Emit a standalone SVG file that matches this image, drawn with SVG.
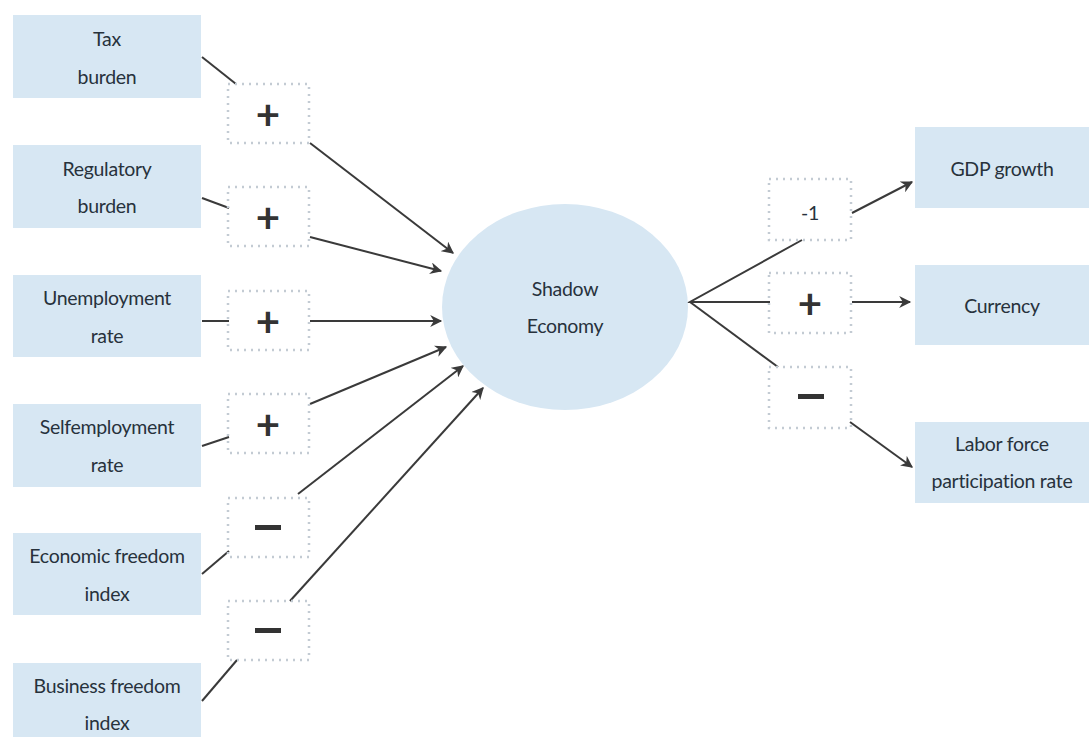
<svg xmlns="http://www.w3.org/2000/svg" width="1089" height="737" viewBox="0 0 1089 737">
<defs>
<style>
.box{fill:#d7e7f3}
.t{font-family:Lato,"Open Sans","Liberation Sans",sans-serif;font-size:19.5px;fill:#27323c;text-anchor:middle;dominant-baseline:central;letter-spacing:-0.3px}
.sg{fill:none;stroke:#c3cbd3;stroke-width:2.5;stroke-dasharray:2 5}
.s{font-family:Lato,"Liberation Sans",sans-serif;font-weight:bold;font-size:42px;fill:#333;text-anchor:middle;dominant-baseline:central}
.ln{fill:none;stroke:#3a3a3a;stroke-width:2}
.ar{fill:none;stroke:#3a3a3a;stroke-width:2;marker-end:url(#ah)}
</style>
<marker id="ah" viewBox="0 0 10 10" refX="9" refY="5" markerWidth="13" markerHeight="12" markerUnits="userSpaceOnUse" orient="auto">
<path d="M0,0 L10,5 L0,10 L3,5 Z" fill="#3a3a3a"/>
</marker>
</defs>
<rect width="1089" height="737" fill="#fff"/>

<g id="connectors">
<line class="ln" x1="202" y1="57" x2="236" y2="84"/>
<line class="ar" x1="310" y1="143" x2="453" y2="253"/>
<line class="ln" x1="202" y1="198" x2="229" y2="208"/>
<line class="ar" x1="310" y1="237" x2="441" y2="271"/>
<line class="ln" x1="202" y1="321" x2="229" y2="321"/>
<line class="ar" x1="310" y1="321" x2="441" y2="321"/>
<line class="ln" x1="202" y1="446" x2="229" y2="437"/>
<line class="ar" x1="310" y1="404" x2="446" y2="347"/>
<line class="ln" x1="202" y1="574" x2="229" y2="551"/>
<line class="ar" x1="298" y1="494" x2="463" y2="366"/>
<line class="ln" x1="202" y1="701" x2="237" y2="660"/>
<line class="ar" x1="290" y1="601" x2="483" y2="388"/>
<polyline class="ln" points="802,240 690,302 770,302"/>
<line class="ln" x1="690" y1="302" x2="778" y2="367"/>
<line class="ar" x1="852" y1="213" x2="912" y2="182"/>
<line class="ar" x1="852" y1="302" x2="910" y2="302"/>
<line class="ar" x1="850" y1="422" x2="912" y2="467"/>
</g>

<g id="tax"><rect class="box" x="13" y="15" width="188" height="83"/><text class="t" x="107" y="38">Tax</text><text class="t" x="107" y="76">burden</text></g>
<g id="regulatory"><rect class="box" x="13" y="145" width="188" height="83"/><text class="t" x="107" y="168">Regulatory</text><text class="t" x="107" y="205">burden</text></g>
<g id="unemployment"><rect class="box" x="13" y="275" width="188" height="82"/><text class="t" x="107" y="297">Unemployment</text><text class="t" x="107" y="335">rate</text></g>
<g id="selfemployment"><rect class="box" x="13" y="404" width="188" height="83"/><text class="t" x="107" y="426">Selfemployment</text><text class="t" x="107" y="464">rate</text></g>
<g id="economic"><rect class="box" x="13" y="533" width="188" height="82"/><text class="t" x="107" y="555">Economic freedom</text><text class="t" x="107" y="593">index</text></g>
<g id="business"><rect class="box" x="13" y="663" width="188" height="84"/><text class="t" x="107" y="685">Business freedom</text><text class="t" x="107" y="722">index</text></g>

<g id="sign-tax"><rect class="sg" x="228" y="84" width="81" height="59"/><text class="s" x="268" y="114">+</text></g>
<g id="sign-reg"><rect class="sg" x="228" y="187" width="81" height="59"/><text class="s" x="268" y="217">+</text></g>
<g id="sign-unemp"><rect class="sg" x="228" y="291" width="81" height="59"/><text class="s" x="268" y="321">+</text></g>
<g id="sign-self"><rect class="sg" x="228" y="394" width="81" height="59"/><text class="s" x="268" y="424">+</text></g>
<g id="sign-econ"><rect class="sg" x="228" y="498" width="81" height="59"/><rect x="255" y="525" width="26" height="5" fill="#333"/></g>
<g id="sign-bus"><rect class="sg" x="228" y="601" width="81" height="59"/><rect x="255" y="628" width="26" height="5" fill="#333"/></g>

<g id="shadow"><ellipse cx="565" cy="307" rx="123" ry="103" fill="#d7e7f3"/><text class="t" x="565" y="288">Shadow</text><text class="t" x="565" y="325">Economy</text></g>

<g id="sign-gdp"><rect class="sg" x="769" y="179" width="82" height="61"/><text class="t" x="810" y="212" font-size="18">-1</text></g>
<g id="sign-cur"><rect class="sg" x="769" y="273" width="82" height="60"/><text class="s" x="810" y="303">+</text></g>
<g id="sign-lab"><rect class="sg" x="769" y="367" width="82" height="61"/><rect x="798" y="394" width="26" height="5" fill="#333"/></g>

<g id="gdp"><rect class="box" x="915" y="127" width="174" height="81"/><text class="t" x="1002" y="168">GDP growth</text></g>
<g id="currency"><rect class="box" x="915" y="265" width="174" height="80"/><text class="t" x="1002" y="305">Currency</text></g>
<g id="labor"><rect class="box" x="915" y="422" width="174" height="81"/><text class="t" x="1002" y="443">Labor force</text><text class="t" x="1002" y="480">participation rate</text></g>
</svg>
